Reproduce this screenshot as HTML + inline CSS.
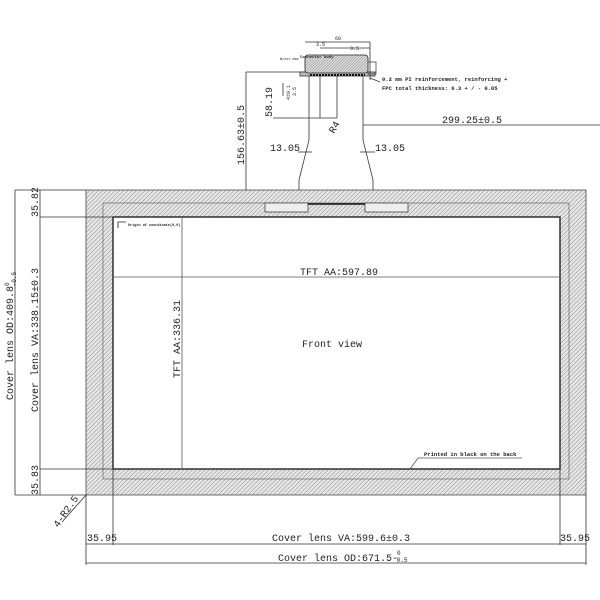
<!DOCTYPE html>
<html><head><style>
html,body{margin:0;padding:0;background:#fff}
svg{display:block}
text{font-family:"Liberation Mono","Noto Sans CJK SC",monospace;fill:#222}
</style></head><body>
<svg width="600" height="600" viewBox="0 0 600 600" xmlns="http://www.w3.org/2000/svg">
<defs>
<pattern id="h" width="3" height="3" patternUnits="userSpaceOnUse" patternTransform="rotate(45)">
<rect width="3" height="3" fill="#e6e6e6"/><line x1="0" y1="0" x2="0" y2="3" stroke="#777" stroke-width="0.8"/>
</pattern>
<pattern id="h2" width="2" height="2" patternUnits="userSpaceOnUse" patternTransform="rotate(45)">
<rect width="2" height="2" fill="#ddd"/><line x1="0" y1="0" x2="0" y2="2" stroke="#666" stroke-width="0.7"/>
</pattern>
</defs>
<g stroke="#333" fill="none" stroke-width="0.8">
<!-- frame hatch -->
<path d="M86 190H586V495H86Z M113 217V469H560V217Z" fill="url(#h)" fill-rule="evenodd" stroke="#444"/>
<rect x="103" y="203" width="466" height="276" stroke="#666" stroke-width="0.7"/>
<rect x="113" y="217" width="447" height="252" stroke="#222" stroke-width="1.4" fill="#fff"/>
<!-- FPC slots -->
<rect x="265" y="203" width="43" height="9" fill="#eee" stroke="#444"/>
<rect x="365" y="203" width="43" height="9" fill="#eee" stroke="#444"/>
<line x1="308" y1="204" x2="365" y2="204" stroke="#111" stroke-width="1.5"/>
<!-- TFT AA lines -->
<line x1="113" y1="277" x2="560" y2="277" stroke="#555"/>
<line x1="182" y1="217" x2="182" y2="469" stroke="#555"/>
<path d="M118 228V222H126" stroke="#222"/>
<!-- left dims -->
<line x1="15" y1="190" x2="86" y2="190"/>
<line x1="15" y1="495" x2="86" y2="495"/>
<line x1="15" y1="190" x2="15" y2="495"/>
<line x1="40" y1="217" x2="113" y2="217"/>
<line x1="40" y1="469" x2="113" y2="469"/>
<line x1="40" y1="190" x2="40" y2="495"/>
<!-- bottom dims -->
<line x1="86" y1="495" x2="86" y2="565"/>
<line x1="113" y1="469" x2="113" y2="545"/>
<line x1="560" y1="469" x2="560" y2="545"/>
<line x1="586" y1="495" x2="586" y2="565"/>
<line x1="86" y1="544" x2="586" y2="544"/>
<line x1="86" y1="563" x2="586" y2="563"/>
<line x1="86" y1="495" x2="62" y2="522"/>
<!-- printed leader -->
<path d="M410 469L418 458H522" stroke="#555"/>
<!-- FPC tail -->
<path d="M309 73V140L299 180V190"/>
<path d="M363 73V140L373 180V190"/>
<line x1="298" y1="152" x2="312" y2="152"/>
<line x1="360" y1="152" x2="375" y2="152"/>
<line x1="246" y1="72" x2="246" y2="190"/>
<line x1="246" y1="72" x2="305" y2="72"/>
<line x1="363" y1="125" x2="600" y2="125"/>
<line x1="273" y1="118" x2="337" y2="118"/>
<line x1="337" y1="74" x2="337" y2="118"/>
<line x1="320" y1="74" x2="320" y2="118"/>
<!-- connector -->
<rect x="300" y="72" width="75" height="4" fill="#bbb"/>
<rect x="305" y="55" width="63" height="18" rx="3" fill="url(#h2)" stroke="#222"/>
<line x1="310" y1="75" x2="365" y2="75" stroke="#111" stroke-width="2" stroke-dasharray="2 1"/>
<line x1="305" y1="42" x2="370" y2="42"/>
<line x1="320" y1="48" x2="370" y2="48"/>
<line x1="370" y1="42" x2="370" y2="80"/>
<rect x="368" y="62" width="8" height="12" stroke="#444"/>
<line x1="370" y1="78" x2="380" y2="82"/>
<line x1="283" y1="83" x2="283" y2="96"/>
</g>
<text x="300" y="58" font-size="4" font-weight="bold">Connector body</text>
<text x="316" y="46" font-size="5">3.5</text>
<text x="350" y="50" font-size="5">3.5</text>
<text x="335" y="40" font-size="5">60</text>
<text x="280" y="60" font-size="3.5">W=xxx max</text>
<text x="382" y="81" font-size="5.5" font-weight="bold">0.2 mm PI reinforcement, reinforcing +</text>
<text x="382" y="90" font-size="5.5" font-weight="bold">FPC total thickness: 0.3 + / - 0.05</text>
<text font-size="10" transform="translate(272,117) rotate(-90)">58.19</text>
<text font-size="5" transform="translate(290,100) rotate(-90)">4±0.1</text>
<text font-size="5" transform="translate(296,96) rotate(-90)">3.5</text>
<text font-size="10" transform="translate(334,134) rotate(-60)">R4</text>
<text font-size="10" transform="translate(244,165) rotate(-90)">156.63±0.5</text>
<text x="442" y="123" font-size="10">299.25±0.5</text>
<text x="270" y="151" font-size="10">13.05</text>
<text x="375" y="151" font-size="10">13.05</text>
<text x="128" y="226" font-size="3.5" font-weight="bold">Origin of coordinate(0,0)</text>
<text x="300" y="275" font-size="10">TFT AA:597.89</text>
<text x="302" y="347" font-size="10">Front view</text>
<text font-size="10" transform="translate(180,378) rotate(-90)">TFT AA:336.31</text>
<text x="424" y="456" font-size="5.5" font-weight="bold">Printed in black on the back</text>
<text font-size="10" transform="translate(13,400) rotate(-90)">Cover lens OD:409.8<tspan font-size="6" dy="-4">0</tspan><tspan font-size="6" dx="-4" dy="7">-0.5</tspan></text>
<text font-size="10" transform="translate(38,412) rotate(-90)">Cover lens VA:338.15±0.3</text>
<text font-size="10" transform="translate(38,217) rotate(-90)">35.82</text>
<text font-size="10" transform="translate(38,495) rotate(-90)">35.83</text>
<text font-size="10" transform="translate(58,528) rotate(-55)">4-R2.5</text>
<text x="87" y="541" font-size="10">35.95</text>
<text x="560" y="541" font-size="10">35.95</text>
<text x="272" y="541" font-size="10">Cover lens VA:599.6±0.3</text>
<text x="278" y="561" font-size="10">Cover lens OD:671.5-<tspan font-size="6" dy="-6" dx="-1">0</tspan><tspan font-size="6" dx="-4" dy="7">0.5</tspan></text>
</svg>
</body></html>
